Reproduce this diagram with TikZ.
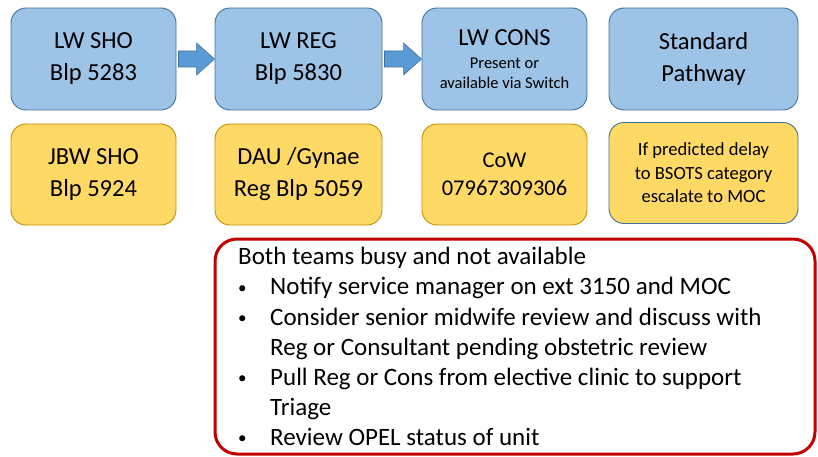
\documentclass[tikz,border=0pt]{standalone}
\usepackage{fontspec}
\setmainfont{Carlito}
\usetikzlibrary{calc}

% 定义颜色
\definecolor{boxblue}{HTML}{9DC3E6}
\definecolor{lineblue}{HTML}{41719C}
\definecolor{arrowblue}{HTML}{5B9BD5}
\definecolor{boxgold}{HTML}{FFD966}
\definecolor{linegold}{HTML}{BF9000}
\definecolor{framered}{HTML}{C00000}

\begin{document}
\begin{tikzpicture}[x=1pt, y=-1pt,
    bluebox/.style={draw=lineblue, fill=boxblue, line width=0.9pt, rounded corners=15pt,
        minimum height=102pt, inner sep=0pt, align=center, font=\fontsize{24.5}{32}\selectfont},
    goldbox/.style={bluebox, draw=linegold, fill=boxgold, minimum height=101pt},
    blockarrow/.style={draw=lineblue, fill=arrowblue, line width=0.6pt},
    redframe/.style={draw=framered, line width=3pt, rounded corners=22pt, inner sep=0pt},
    escline/.style={anchor=base west, inner sep=0pt, font=\fontsize{25}{30}\selectfont}]

\useasboundingbox (0,0) rectangle (818,457);

% 第一行: 蓝色方框
\foreach \bname/\bx/\bw/\btext in {s1/93.5/165/{LW SHO\\Blp 5283}, r1/298.5/167/{LW REG\\Blp 5830}, p1/703.5/189/{Standard\\Pathway}} {
    \node[bluebox, minimum width=\bw] (\bname) at (\bx,59) {\btext};
}
\node[bluebox, minimum width=165, font=\fontsize{16.5}{20}\selectfont] (c1) at (504.5,59)
    {{\fontsize{24.5}{24.5}\selectfont LW CONS}\\[2.5pt]Present or\\available via Switch};

% 第二行: 黄色方框
\foreach \bname/\bx/\bw/\btext in {s2/93.5/165/{JBW SHO\\Blp 5924}, r2/298.5/167/{DAU /Gynae\\Reg Blp 5059}} {
    \node[goldbox, minimum width=\bw] (\bname) at (\bx,174.5) {\btext};
}
\node[goldbox, minimum width=165, font=\fontsize{22.5}{28.5}\selectfont] (c2) at (504.5,174.5) {CoW\\07967309306};
\node[goldbox, minimum width=189, draw=lineblue, font=\fontsize{18.6}{23.5}\selectfont] (p2) at (703.5,173)
    {If predicted delay\\to BSOTS category\\escalate to MOC};

% 方框之间的箭头
\foreach \afrom/\ato in {s1/r1, r1/c1} {
    \draw[blockarrow] ($(\afrom.east)+(2,-8)$) -- ($(\ato.west)+(-18,-8)$) -- ($(\ato.west)+(-18,-16)$)
        -- (\ato.west) -- ($(\ato.west)+(-18,16)$) -- ($(\ato.west)+(-18,8)$) -- ($(\afrom.east)+(2,8)$) -- cycle;
}

% 红色框和文字
\node[redframe, minimum width=600, minimum height=215] (esc) at (515,346.5) {};
\node[escline] (t0) at (238,264) {Both teams busy and not available};
\foreach \lname/\ly/\ltext in {t1/294.5/{Notify service manager on ext 3150 and MOC},
        t2/325/{Consider senior midwife review and discuss with}, t3/355/{Reg or Consultant pending obstetric review},
        t4/385/{Pull Reg or Cons from elective clinic to support}, t5/415/Triage, t6/445/{Review OPEL status of unit}} {
    \node[escline] (\lname) at (270,\ly) {\ltext};
}
\foreach \uname/\ly in {u1/294.5, u2/325, u4/385, u6/445} {
    \node[escline, font=\fontsize{17}{20}\selectfont] (\uname) at (238,\ly-1.5) {•};
}

\end{tikzpicture}
\end{document}
